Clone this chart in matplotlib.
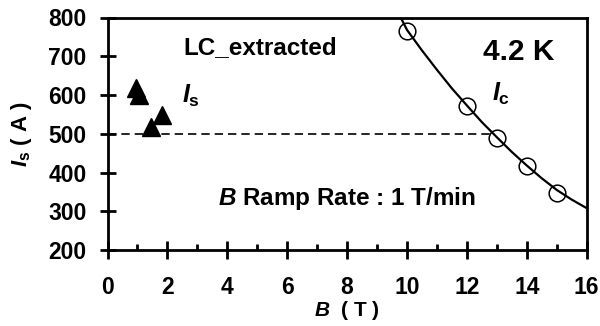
import matplotlib
matplotlib.use("Agg")
import matplotlib.pyplot as plt
from matplotlib.ticker import MultipleLocator

plt.rcParams['font.family'] = ['Liberation Sans', 'DejaVu Sans']
plt.rcParams['font.weight'] = 'bold'
plt.rcParams['mathtext.fontset'] = 'custom'
plt.rcParams['mathtext.it'] = 'Liberation Sans:italic:bold'
plt.rcParams['mathtext.rm'] = 'Liberation Sans:bold'
plt.rcParams['mathtext.bf'] = 'Liberation Sans:bold'

# Is (sudden quench current) data - filled triangles
is_B = [0.94, 1.06, 1.44, 1.81]
is_I = [618, 600, 517, 548]

# Ic data - open circles
ic_B = [10, 12, 13, 14, 15]
ic_I = [765, 572, 490, 416, 346]

# Ic fitted curve
fit_B = [9.79, 10.0, 10.5, 11.0, 11.5, 12.0, 12.5, 13.0, 13.5, 14.0, 14.5, 15.0, 15.5, 16.0]
fit_I = [800, 768, 715, 665, 617, 573, 530, 491, 453, 418, 385, 355, 330, 308]

# dashed level
level_B = [0, 12.8]
level_I = [500, 500]

xticks = [0, 2, 4, 6, 8, 10, 12, 14, 16]
yticks = [200, 300, 400, 500, 600, 700, 800]

fig = plt.figure(figsize=(6.0, 3.26), dpi=100)
ax = fig.add_axes([107.5/600, 76/326, (586.7-107.5)/600, (250-17.5)/326])

ax.plot(level_B, level_I, color='black', lw=1.2, ls=(0, (5, 3)))
ax.plot(fit_B, fit_I, color='black', lw=1.6, solid_capstyle='butt')
ax.plot(ic_B, ic_I, ls='none', marker='o', ms=12, mfc='none', mec='black', mew=1.1)
ax.plot(is_B, is_I, ls='none', marker='^', ms=12.5, mfc='black', mec='black')

ax.set_xlim(0, 16)
ax.set_ylim(200, 800)
ax.set_xticks(xticks)
ax.set_yticks(yticks)
ax.xaxis.set_minor_locator(MultipleLocator(1))

for s in ax.spines.values():
    s.set_linewidth(2.0)

ax.tick_params(axis='x', which='major', direction='inout', length=13, width=2.0,
               labelsize=16.5, pad=12, top=False)
ax.tick_params(axis='x', which='minor', direction='in', length=4.5, width=2.0, top=False)
ax.tick_params(axis='y', which='major', direction='inout', length=12, width=2.0,
               labelsize=16.5, pad=9, right=False)
ax.tick_params(axis='y', which='minor', left=False, right=False)
for lab in ax.get_xticklabels() + ax.get_yticklabels():
    lab.set_fontweight('bold')

ax.set_xlabel(r'$B$  ( T )', fontsize=15, fontweight='bold', labelpad=0)
ax.set_ylabel(r'$I_{\rm s}$ ( A )', fontsize=16, fontweight='bold', labelpad=10)

ax.text(2.52, 722, 'LC_extracted', fontsize=17.5, fontweight='bold', va='center', ha='left')
ax.text(12.53, 710, '4.2 K', fontsize=21.5, fontweight='bold', va='center', ha='left')
ax.text(2.5, 597, r'$I_{\rm s}$', fontsize=18, va='center', ha='left')
ax.text(12.83, 602, r'$I_{\rm c}$', fontsize=18, va='center', ha='left')
ax.text(3.7, 332, r'$B$ Ramp Rate : 1 T/min', fontsize=17.5, fontweight='bold',
        va='center', ha='left')

fig.savefig('out.png', dpi=100)
